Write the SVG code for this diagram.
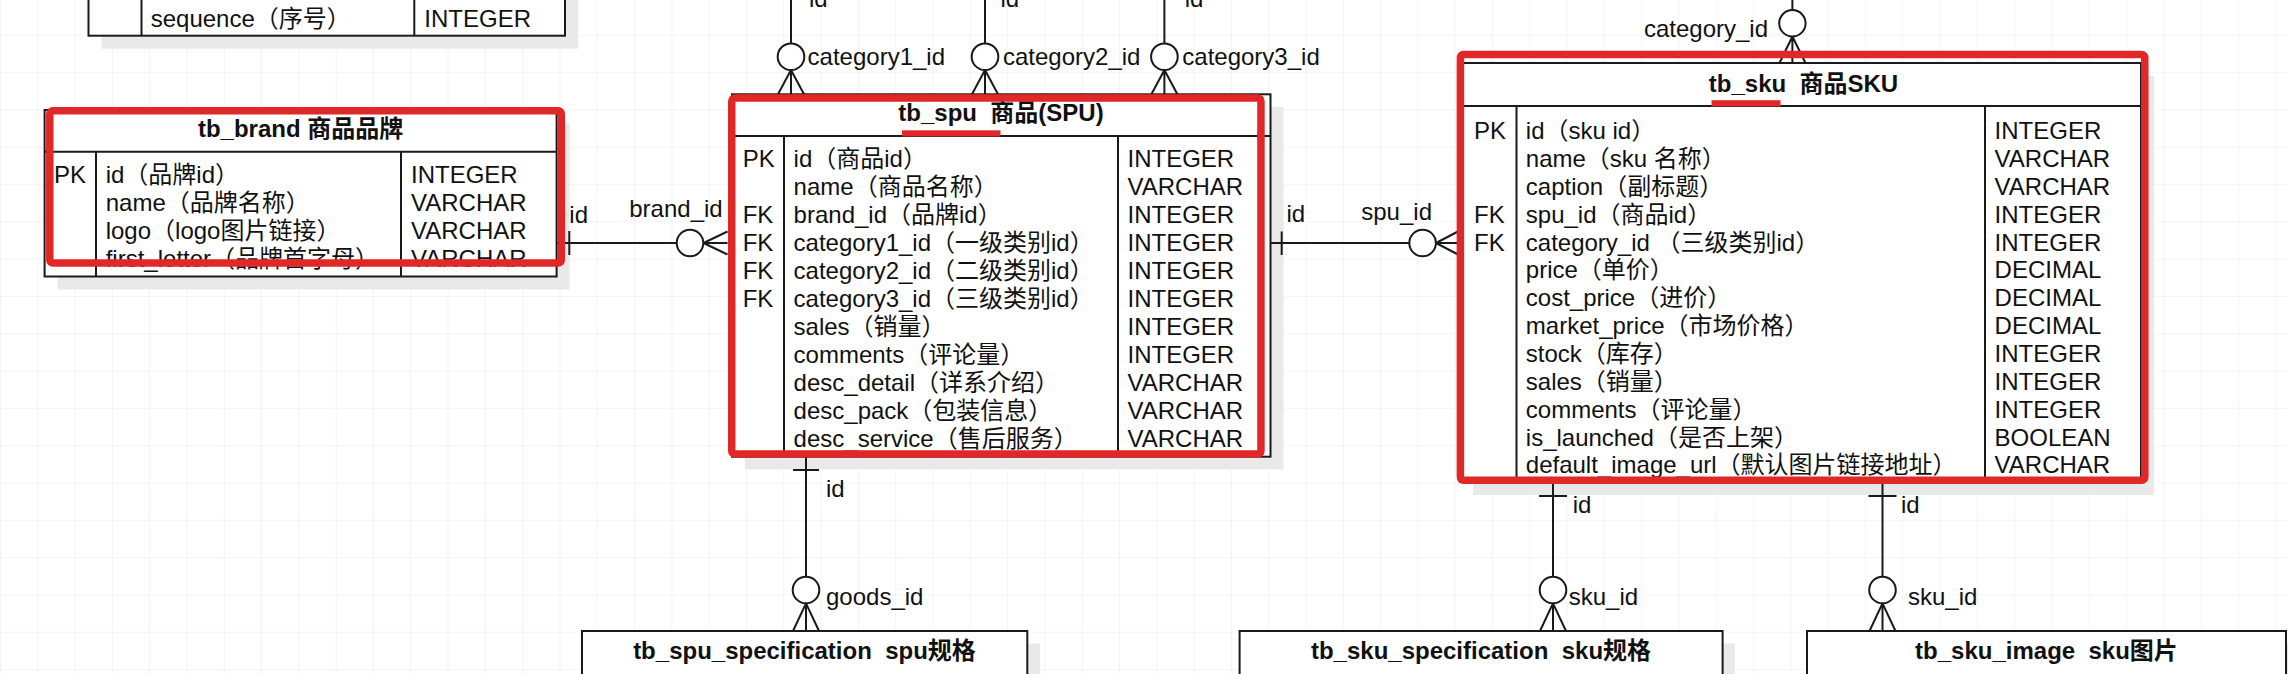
<svg xmlns="http://www.w3.org/2000/svg" width="2288" height="674" viewBox="0 0 2288 674">
<defs>
<pattern id="grid" x="0" y="-2.4" width="37.3" height="37.3" patternUnits="userSpaceOnUse">
<path d="M0 0H37.3M0 0V37.3" fill="none" stroke="#ececec" stroke-width="1.2"/>
</pattern>
<style>
text{font-family:"Liberation Sans","Noto Sans CJK SC",sans-serif;font-size:24px;fill:#111;white-space:pre}
.t{font-weight:bold}
.mid{text-anchor:middle}
.end{text-anchor:end}
.tb{fill:#fff;stroke:#1a1a1a;stroke-width:2}
.ln{stroke:#1a1a1a;stroke-width:2;fill:none}
.sh{fill:#e9e9e9}
.red{fill:none;stroke:#e02828;stroke-width:7.5}
.bar{fill:#e02828}
.cc{fill:#fff;stroke:#1a1a1a;stroke-width:2}
</style>
</defs>
<rect width="2288" height="674" fill="#fff"/>
<rect width="2288" height="674" fill="url(#grid)"/>

<g id="tb_partial">
<rect class="sh" x="101.5" y="-30" width="476.5" height="78.7"/>
<rect class="tb" x="88.5" y="-44" width="476.5" height="79.7"/>
<path class="ln" d="M141.5 -44V35.7M414.3 -44V35.7"/>
<text x="150.7" y="26.7">sequence（序号）</text>
<text x="424.3" y="26.7">INTEGER</text>
</g>

<g id="tb_brand">
<rect class="sh" x="57.6" y="123" width="512" height="166.5"/>
<rect class="tb" x="44.6" y="110" width="512" height="166.5"/>
<path class="ln" d="M44.6 151.7H556.6M96 151.7V276.5M401 151.7V276.5"/>
<text class="t mid" x="300.6" y="136.7">tb_brand 商品品牌</text>
<text x="54" y="182.7">PK</text>
<text x="105.7" y="182.7">id（品牌id）</text>
<text x="411" y="182.7">INTEGER</text>
<text x="105.7" y="210.7">name（品牌名称）</text>
<text x="411" y="210.7">VARCHAR</text>
<text x="105.7" y="238.7">logo（logo图片链接）</text>
<text x="411" y="238.7">VARCHAR</text>
<text x="105.7" y="266.7">first_letter（品牌首字母）</text>
<text x="411" y="266.7">VARCHAR</text>
</g>

<g id="tb_spu">
<rect class="sh" x="745" y="107" width="538.5" height="362.4"/>
<rect class="tb" x="732" y="94.3" width="538.5" height="362.4"/>
<path class="ln" d="M732 136H1270.5M784 136V456.7M1118 136V456.7"/>
<text class="t mid" x="1001" y="120.7">tb_spu  商品(SPU)</text>
<text x="742.7" y="166.7">PK</text><text x="793.6" y="166.7">id（商品id）</text><text x="1127.5" y="166.7">INTEGER</text>
<text x="793.6" y="194.7">name（商品名称）</text><text x="1127.5" y="194.7">VARCHAR</text>
<text x="742.7" y="222.7">FK</text><text x="793.6" y="222.7">brand_id（品牌id）</text><text x="1127.5" y="222.7">INTEGER</text>
<text x="742.7" y="250.7">FK</text><text x="793.6" y="250.7">category1_id（一级类别id）</text><text x="1127.5" y="250.7">INTEGER</text>
<text x="742.7" y="278.7">FK</text><text x="793.6" y="278.7">category2_id（二级类别id）</text><text x="1127.5" y="278.7">INTEGER</text>
<text x="742.7" y="306.7">FK</text><text x="793.6" y="306.7">category3_id（三级类别id）</text><text x="1127.5" y="306.7">INTEGER</text>
<text x="793.6" y="334.7">sales（销量）</text><text x="1127.5" y="334.7">INTEGER</text>
<text x="793.6" y="362.7">comments（评论量）</text><text x="1127.5" y="362.7">INTEGER</text>
<text x="793.6" y="390.7">desc_detail（详系介绍）</text><text x="1127.5" y="390.7">VARCHAR</text>
<text x="793.6" y="418.7">desc_pack（包装信息）</text><text x="1127.5" y="418.7">VARCHAR</text>
<text x="793.6" y="446.7">desc_service（售后服务）</text><text x="1127.5" y="446.7">VARCHAR</text>
</g>

<g id="tb_sku">
<rect class="sh" x="1473" y="76" width="681" height="419"/>
<rect class="tb" x="1460" y="63" width="681" height="419"/>
<path class="ln" d="M1460 106H2141M1516.5 106V482M1985 106V482"/>
<text class="t mid" x="1803.5" y="92.2">tb_sku  商品SKU</text>
<text x="1474" y="139.2">PK</text><text x="1525.8" y="139.2">id（sku id）</text><text x="1994.6" y="139.2">INTEGER</text>
<text x="1525.8" y="167.05">name（sku 名称）</text><text x="1994.6" y="167.05">VARCHAR</text>
<text x="1525.8" y="194.9">caption（副标题）</text><text x="1994.6" y="194.9">VARCHAR</text>
<text x="1474" y="222.75">FK</text><text x="1525.8" y="222.75">spu_id（商品id）</text><text x="1994.6" y="222.75">INTEGER</text>
<text x="1474" y="250.6">FK</text><text x="1525.8" y="250.6">category_id （三级类别id）</text><text x="1994.6" y="250.6">INTEGER</text>
<text x="1525.8" y="278.45">price（单价）</text><text x="1994.6" y="278.45">DECIMAL</text>
<text x="1525.8" y="306.3">cost_price（进价）</text><text x="1994.6" y="306.3">DECIMAL</text>
<text x="1525.8" y="334.15">market_price（市场价格）</text><text x="1994.6" y="334.15">DECIMAL</text>
<text x="1525.8" y="362">stock（库存）</text><text x="1994.6" y="362">INTEGER</text>
<text x="1525.8" y="389.85">sales（销量）</text><text x="1994.6" y="389.85">INTEGER</text>
<text x="1525.8" y="417.7">comments（评论量）</text><text x="1994.6" y="417.7">INTEGER</text>
<text x="1525.8" y="445.55">is_launched（是否上架）</text><text x="1994.6" y="445.55">BOOLEAN</text>
<text x="1525.8" y="473.4">default_image_url（默认图片链接地址）</text><text x="1994.6" y="473.4">VARCHAR</text>
</g>

<g id="tb_spu_specification">
<rect class="sh" x="594.5" y="643.5" width="445.5" height="60"/>
<rect class="tb" x="582" y="631" width="445.3" height="60"/>
<text class="t mid" x="804.5" y="658.6">tb_spu_specification  spu规格</text>
</g>

<g id="tb_sku_specification">
<rect class="sh" x="1252" y="643.5" width="483" height="60"/>
<rect class="tb" x="1239.6" y="631" width="483" height="60"/>
<text class="t mid" x="1481" y="659">tb_sku_specification  sku规格</text>
</g>

<g id="tb_sku_image">
<rect class="sh" x="1819.5" y="643.5" width="479" height="60"/>
<rect class="tb" x="1807" y="631" width="479" height="60"/>
<text class="t mid" x="2046.5" y="659">tb_sku_image  sku图片</text>
</g>

<g id="connectors">
<!-- brand -> spu -->
<path class="ln" d="M556.6 243H676.7M569.3 231V255M703.5 243L727.5 231.5M703.5 243H727.5M703.5 243L727.5 254.5"/>
<circle class="cc" cx="690" cy="243" r="13.3"/>
<text x="569.3" y="223.3">id</text>
<text class="end" x="722.7" y="216.7">brand_id</text>
<!-- spu -> sku -->
<path class="ln" d="M1270.5 243H1409.3M1281.7 231.5V255M1436 243L1458 231.5M1436 243H1458M1436 243L1458 254.5"/>
<circle class="cc" cx="1422.6" cy="243" r="13.3"/>
<text x="1286.5" y="221.7">id</text>
<text class="end" x="1432" y="220">spu_id</text>
<!-- category1 -->
<path class="ln" d="M791 0V43.4M791 70L778 94.3M791 70V94.3M791 70L804 94.3"/>
<circle class="cc" cx="791" cy="56.7" r="13.3"/>
<text x="809" y="6.5">id</text>
<text x="807.6" y="65">category1_id</text>
<!-- category2 -->
<path class="ln" d="M985 0V43.4M985 70L972 94.3M985 70V94.3M985 70L998 94.3"/>
<circle class="cc" cx="985" cy="56.7" r="13.3"/>
<text x="1000.5" y="6.5">id</text>
<text x="1003" y="65">category2_id</text>
<!-- category3 -->
<path class="ln" d="M1164.4 0V43.4M1164.4 70L1151.4 94.3M1164.4 70V94.3M1164.4 70L1177.4 94.3"/>
<circle class="cc" cx="1164.4" cy="56.7" r="13.3"/>
<text x="1184.7" y="6.5">id</text>
<text x="1182.3" y="65">category3_id</text>
<!-- category -> sku -->
<path class="ln" d="M1792.4 0V10M1792.4 36.5L1779.5 63M1792.4 36.5V63M1792.4 36.5L1805.5 63"/>
<circle class="cc" cx="1792.4" cy="23.3" r="13.2"/>
<text class="end" x="1768" y="36.7">category_id</text>
<!-- spu -> spu_specification -->
<path class="ln" d="M806 456.7V576.7M793 470H819M806 603.4L793 631M806 603.4V631M806 603.4L819 631"/>
<circle class="cc" cx="806" cy="590" r="13.3"/>
<text x="826" y="496.7">id</text>
<text x="826" y="605">goods_id</text>
<!-- sku -> sku_specification -->
<path class="ln" d="M1553 482V576.7M1539 496H1567M1553 603.4L1540 631M1553 603.4V631M1553 603.4L1566 631"/>
<circle class="cc" cx="1553" cy="590" r="13.3"/>
<text x="1572.7" y="512.7">id</text>
<text x="1568.7" y="605">sku_id</text>
<!-- sku -> sku_image -->
<path class="ln" d="M1882.5 482V576.7M1868.5 496H1896.5M1882.5 603.4L1869.5 631M1882.5 603.4V631M1882.5 603.4L1895.5 631"/>
<circle class="cc" cx="1882.5" cy="590" r="13.3"/>
<text x="1901" y="512.7">id</text>
<text x="1908" y="605">sku_id</text>
</g>

<g id="highlights">
<rect class="red" x="49.8" y="110.8" width="511.5" height="152.2" rx="3"/>
<rect class="red" x="731.75" y="98" width="529.2" height="355.9" rx="3"/>
<rect class="red" x="1460.4" y="54.5" width="684.4" height="425.8" rx="3"/>
<rect class="bar" x="902" y="130.3" width="98.5" height="6.2"/>
<rect class="bar" x="1711.5" y="100.2" width="69" height="6.3"/>
</g>
</svg>
